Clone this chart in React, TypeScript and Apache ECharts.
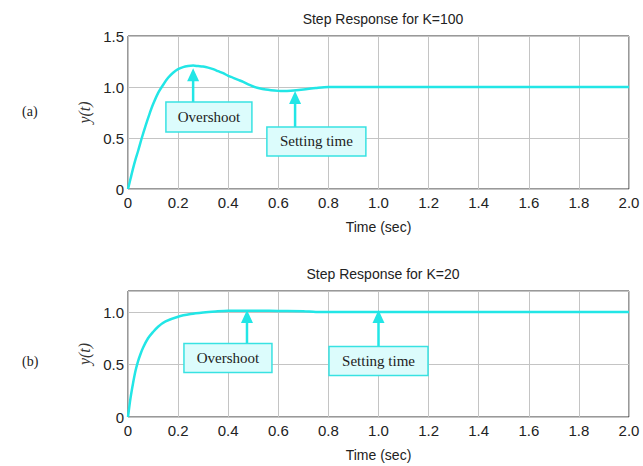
import React, { useEffect, useRef } from "react";
import * as echarts from "echarts";

const topTitle = "Step Response for K=100";
const bottomTitle = "Step Response for K=20";
const xTicks = [0, 0.2, 0.4, 0.6, 0.8, 1.0, 1.2, 1.4, 1.6, 1.8, 2.0];

const timeA = [0, 0.01, 0.02, 0.03, 0.04, 0.055, 0.07, 0.085, 0.1, 0.12, 0.14, 0.16, 0.18, 0.2, 0.22, 0.24, 0.26, 0.28, 0.3, 0.32, 0.34, 0.36, 0.38, 0.4, 0.42, 0.44, 0.46, 0.48, 0.5, 0.52, 0.55, 0.6, 0.62, 0.65, 0.7, 0.75, 0.8, 1.0, 1.5, 2.0];
const respA = [0, 0.1, 0.2, 0.29, 0.37, 0.5, 0.62, 0.73, 0.83, 0.94, 1.02, 1.09, 1.14, 1.175, 1.195, 1.205, 1.21, 1.205, 1.2, 1.19, 1.175, 1.155, 1.135, 1.11, 1.09, 1.07, 1.05, 1.025, 1.005, 0.99, 0.975, 0.962, 0.96, 0.963, 0.975, 0.99, 1.0, 1.0, 1.0, 1.0];

const timeB = [0, 0.01, 0.02, 0.03, 0.04, 0.05, 0.06, 0.08, 0.1, 0.12, 0.15, 0.2, 0.25, 0.3, 0.35, 0.4, 0.5, 0.6, 0.7, 0.75, 1.0, 1.5, 2.0];
const respB = [0, 0.18, 0.32, 0.44, 0.53, 0.6, 0.66, 0.75, 0.81, 0.86, 0.91, 0.955, 0.98, 0.995, 1.005, 1.012, 1.013, 1.01, 1.008, 1.0, 1.0, 1.0, 1.0];

// annotations: grid, label, arrow tip (t, y), box center (t, y), box size px
const annotations = [
  { grid: 0, label: "Overshoot", tip: [0.26, 1.185], box: [0.323, 0.706], w: 86, h: 30 },
  { grid: 0, label: "Setting time", tip: [0.667, 0.96], box: [0.752, 0.466], w: 99, h: 29 },
  { grid: 1, label: "Overshoot", tip: [0.475, 1.02], box: [0.399, 0.5625], w: 88, h: 29 },
  { grid: 1, label: "Setting time", tip: [1.0, 1.02], box: [1.0, 0.534], w: 99, h: 29 },
];

const CYAN = "#22e6e6";
const fmt = (v: number) => (v === 0 ? "0" : v.toFixed(1));

export default function App() {
  const ref = useRef<HTMLDivElement>(null);
  useEffect(() => {
    if (!ref.current) return;
    const chart = echarts.init(ref.current, undefined, { renderer: "svg" });
    const labelStyle = { fontFamily: "Liberation Sans, Arial, sans-serif", fontSize: 15, color: "#222" };
    const nameStyle = { fontFamily: "Liberation Sans, Arial, sans-serif", fontSize: 14, color: "#222" };
    const xAxisBase = (gridIndex: number) => ({
      type: "value",
      gridIndex,
      min: 0,
      max: 2,
      interval: 0.2,
      name: "Time (sec)",
      nameLocation: "middle",
      nameGap: 31,
      nameTextStyle: { ...nameStyle },
      axisLine: { show: false },
      axisTick: { show: false },
      axisLabel: { ...labelStyle, margin: 6, formatter: fmt },
      splitLine: { show: true, lineStyle: { color: "#c4c4c4", width: 1 } },
    });
    const yAxisBase = (gridIndex: number, max: number) => ({
      type: "value",
      gridIndex,
      min: 0,
      max,
      interval: 0.5,
      name: "y(t)",
      nameLocation: "middle",
      nameGap: 34,
      nameRotate: 90,
      nameTextStyle: { fontFamily: "Liberation Serif, Times New Roman, serif", fontStyle: "italic", fontSize: 16, color: "#333" },
      axisLine: { show: false },
      axisTick: { show: false },
      axisLabel: {
        ...labelStyle,
        margin: 4,
        showMaxLabel: max === 1.5,
        formatter: (v: number) => (Math.abs(v - 1.2) < 1e-6 ? "" : fmt(v)),
      },
      splitLine: { show: true, lineStyle: { color: "#c4c4c4", width: 1 } },
    });
    const option: any = {
      animation: false,
      backgroundColor: "#fff",
      title: [
        { text: topTitle, left: 378, top: 7, textAlign: "center", textStyle: { ...nameStyle, fontWeight: "normal" } },
        { text: bottomTitle, left: 378, top: 262, textAlign: "center", textStyle: { ...nameStyle, fontWeight: "normal" } },
      ],
      grid: [
        { left: 128, top: 36, width: 501, height: 153, show: true, borderColor: "#333", borderWidth: 1, backgroundColor: "transparent" },
        { left: 128, top: 291, width: 501, height: 126, show: true, borderColor: "#333", borderWidth: 1, backgroundColor: "transparent" },
      ],
      xAxis: [xAxisBase(0), xAxisBase(1)],
      yAxis: [yAxisBase(0, 1.5), yAxisBase(1, 1.2)],
      series: [
        {
          type: "line",
          xAxisIndex: 0,
          yAxisIndex: 0,
          data: timeA.map((t, i) => [t, respA[i]]),
          smooth: 0.3,
          showSymbol: false,
          lineStyle: { color: CYAN, width: 2.5 },
        },
        {
          type: "line",
          xAxisIndex: 1,
          yAxisIndex: 1,
          data: timeB.map((t, i) => [t, respB[i]]),
          smooth: 0.3,
          showSymbol: false,
          lineStyle: { color: CYAN, width: 2.5 },
        },
      ],
    };
    chart.setOption(option);

    const elements: any[] = [
      { type: "text", left: 22, top: 104, style: { text: "(a)", font: "14px 'Liberation Serif', serif", fill: "#222" } },
      { type: "text", left: 22, top: 354, style: { text: "(b)", font: "14px 'Liberation Serif', serif", fill: "#222" } },
    ];
    annotations.forEach((a) => {
      const tip = chart.convertToPixel({ gridIndex: a.grid } as any, a.tip) as number[];
      const c = chart.convertToPixel({ gridIndex: a.grid } as any, a.box) as number[];
      const bx = c[0] - a.w / 2;
      const by = c[1] - a.h / 2;
      elements.push({
        type: "line",
        shape: { x1: tip[0], y1: by, x2: tip[0], y2: tip[1] + 8 },
        style: { stroke: CYAN, lineWidth: 2.5 },
        z: 10,
      });
      elements.push({
        type: "polygon",
        shape: { points: [[tip[0], tip[1]], [tip[0] - 6, tip[1] + 13], [tip[0] + 6, tip[1] + 13]] },
        style: { fill: CYAN },
        z: 10,
      });
      elements.push({
        type: "rect",
        shape: { x: bx, y: by, width: a.w, height: a.h },
        style: { fill: "#dcfcfc", stroke: "#38e2e2", lineWidth: 1.5 },
        z: 10,
      });
      elements.push({
        type: "text",
        x: c[0],
        y: c[1],
        style: {
          text: a.label,
          font: "15px 'Liberation Serif', 'Times New Roman', serif",
          fill: "#222",
          align: "center",
          verticalAlign: "middle",
        },
        z: 11,
      });
    });
    chart.setOption({ graphic: { elements } });
    return () => chart.dispose();
  }, []);
  return <div ref={ref} style={{ position: "absolute", left: 0, top: 0, width: 643, height: 466 }} />;
}
